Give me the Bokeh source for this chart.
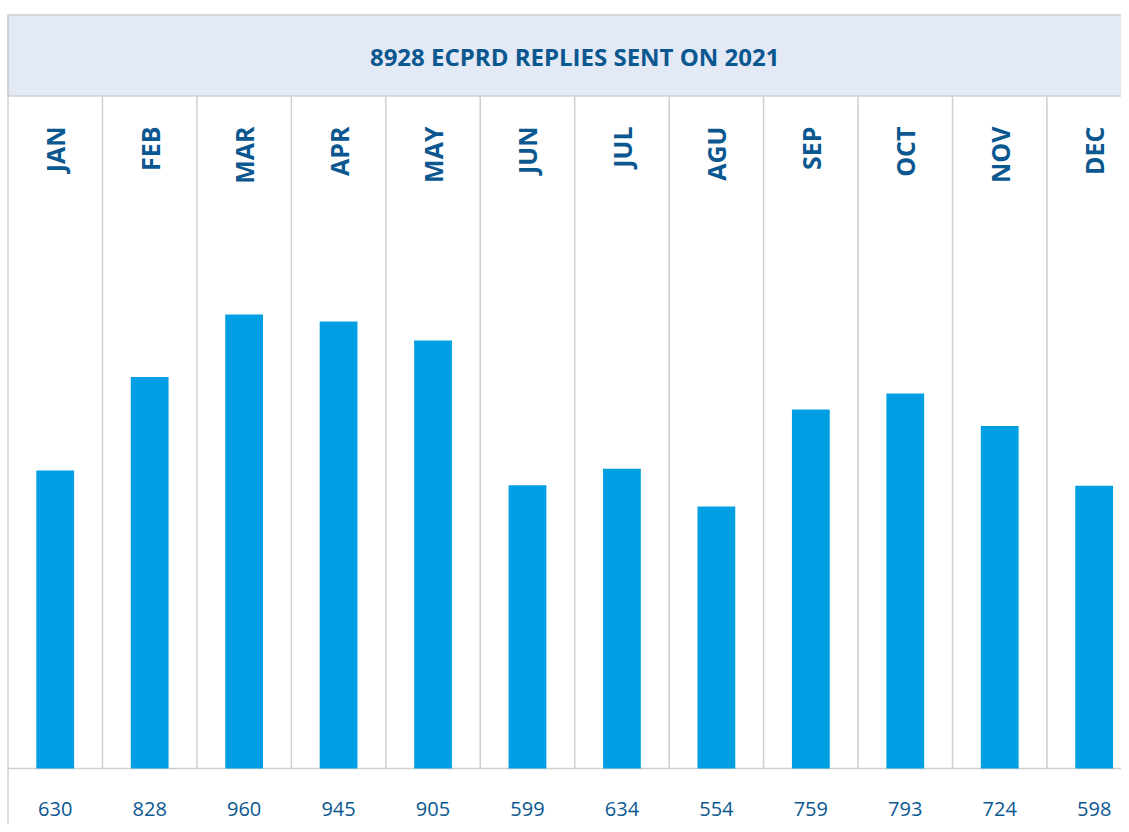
import numpy as np
from bokeh.plotting import figure
from bokeh.models import Range1d
from bokeh.core.properties import value
from bokeh.embed import file_html
from bokeh.resources import INLINE

# ---- data ----
title_text = "8928 ECPRD REPLIES SENT ON 2021"
months = ["JAN", "FEB", "MAR", "APR", "MAY", "JUN", "JUL", "AGU", "SEP", "OCT", "NOV", "DEC"]
replies = [630, 828, 960, 945, 905, 599, 634, 554, 759, 793, 724, 598]

# ---- layout helpers (pixel -> data) ----
W, H = 1121, 824
COL_PX = 94.45
X0_PX = 7.5            # pixel of the left edge of first column
BASE_PX = 768.0        # baseline pixel (y down)
PX_PER_UNIT = 454.0 / 960.0

x_start = -X0_PX / COL_PX
x_end = x_start + W / COL_PX
y_top = BASE_PX / PX_PER_UNIT
y_bot = -(H - BASE_PX) / PX_PER_UNIT


def py(px):
    """y pixel -> data y"""
    return (BASE_PX - px) / PX_PER_UNIT


n = len(months)
xc = np.arange(n) + 0.5
edges = np.arange(n + 1)

p = figure(width=W, height=H, x_range=Range1d(x_start, x_end), y_range=Range1d(y_bot, y_top),
           output_backend="svg", toolbar_location=None, min_border=0)
p.axis.visible = False
p.grid.visible = False
p.outline_line_color = None
p.background_fill_color = "white"
p.border_fill_color = "white"

grey = "#CFCFCF"
dark = "#0B5790"
blue = "#009FE3"
font = value("Open Sans")

# title band
p.quad(left=0, right=n + 1, top=py(14.5), bottom=py(95.5), fill_color="#E3EAF6",
       line_color=grey, line_width=1.5)
p.text(x=[n / 2], y=[py(56)], text=[title_text], text_font=font, text_font_style="bold",
       text_font_size="24px", text_color=dark, text_align="center", text_baseline="middle")

# column separators
p.segment(x0=edges[1:], y0=0, x1=edges[1:], y1=py(95.5), line_color=grey, line_width=1.5)
# left border
p.segment(x0=[0], y0=[y_bot], x1=[0], y1=[py(14.5)], line_color=grey, line_width=1.5)
# baseline
p.segment(x0=[0], y0=[0], x1=[n + 1], y1=[0], line_color=grey, line_width=1.5)

# bars
p.vbar(x=xc, top=replies, width=0.4, bottom=0, fill_color=blue, line_color=None)

# month labels
p.text(x=xc, y=py(126), text=months, angle=np.pi / 2, text_font=font, text_font_style="bold",
       text_font_size="25px", text_color=dark, text_align="right", text_baseline="middle")

# value labels
p.text(x=xc, y=py(808), text=[str(v) for v in replies], text_font=font,
       text_font_size="20px", text_color=dark, text_align="center", text_baseline="middle")

open("out.html", "w").write(file_html(p, INLINE))
